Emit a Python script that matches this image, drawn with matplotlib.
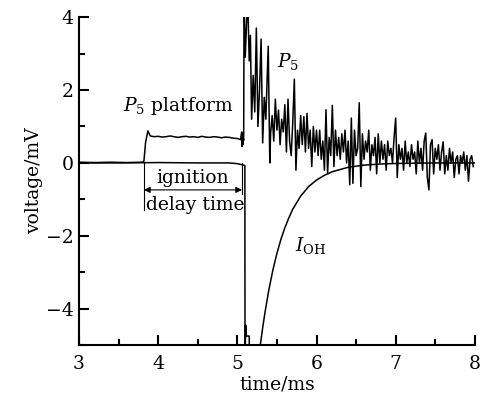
import numpy as np
import matplotlib
matplotlib.use("Agg")
import matplotlib.pyplot as plt
from matplotlib.ticker import MultipleLocator

# P5 trace: baseline and platform before ignition
p5_t_pre = [3.0, 3.2, 3.4, 3.6, 3.8, 3.82, 3.84, 3.87, 3.90, 3.95, 4.00, 4.05,
            4.10, 4.15, 4.20, 4.25, 4.30, 4.35, 4.40, 4.45, 4.50, 4.55, 4.60,
            4.65, 4.70, 4.75, 4.80, 4.85, 4.90, 4.95, 5.00, 5.04, 5.055, 5.06,
            5.065, 5.07, 5.075, 5.08]
p5_v_pre = [0.02, 0.01, 0.02, 0.01, 0.02, 0.05, 0.55, 0.88, 0.74, 0.72, 0.73,
            0.71, 0.72, 0.74, 0.72, 0.70, 0.72, 0.73, 0.71, 0.72, 0.70, 0.73,
            0.71, 0.70, 0.72, 0.71, 0.69, 0.71, 0.70, 0.68, 0.67, 0.64, 0.85,
            0.45, 0.78, 0.50, 0.66, 0.62]

# P5 trace: burst right after ignition
p5_t_burst = [5.085, 5.10, 5.13, 5.15, 5.165, 5.18, 5.20, 5.22, 5.24, 5.26,
              5.28, 5.30, 5.32, 5.34, 5.36, 5.39, 5.41, 5.42]
p5_v_burst = [4.6, 2.9, 4.6, 2.8, 3.5, 1.2, 2.4, 1.4, 3.7, 1.0,
              2.0, 3.4, 0.55, 1.8, 1.2, 3.2, 0.0, 0.8]

# P5 trace: decaying oscillation, one value every 0.02 ms from 5.44 ms
p5_tail = [1.3, 0.6, 1.75, 0.9, 1.45, 0.5, 1.2, 0.85, 1.6, 0.3,
           1.75, 0.6, 0.2, 1.1, 2.3, -0.2, 0.9, 0.4, 1.3, 0.5,
           1.27, 0.3, 1.36, 0.4, 0.9, -0.1, 1.0, 0.3, 0.9, 0.2,
           0.9, 0.1, 0.6, -0.2, 1.46, -0.3, 0.7, 0.2, 1.58, -0.1,
           0.9, 0.2, 0.7, 0.1, 0.8, 0.3, 0.9, 0.0, 0.6, -0.6,
           1.23, -0.56, 0.9, 0.2, 0.4, 1.65, -0.65, 0.8, 0.1, 0.6,
           0.3, 0.9, -0.2, 0.5, 0.2, 0.7, -0.3, 0.8, 0.0, 0.6,
           0.1, 0.5, -0.2, 0.6, 0.2, 0.4, 0.0, 0.7, 1.23, -0.4,
           0.5, 0.1, 0.4, -0.2, 0.6, 0.0, 0.3, -0.1, 0.5, 0.1,
           0.3, -0.3, 0.6, 0.0, 0.4, -0.2, 0.6, 0.82, -0.4, -0.74,
           0.5, 0.64, -0.3, 0.4, 0.1, 0.5, -0.2, 0.3, 0.58, -0.3,
           0.2, -0.2, 0.4, 0.0, 0.3, -0.4, 0.1, 0.2, -0.3, 0.2,
           0.0, 0.3, -0.2, 0.2, -0.5, 0.1, 0.2, -0.1]
p5_t_tail = 5.44 + 0.02 * np.arange(len(p5_tail))

# OH emission trace
oh_t = [3.0, 3.5, 4.0, 4.5, 4.9, 5.0, 5.06, 5.095, 5.097, 5.105, 5.115, 5.15,
        5.152, 5.27, 5.29, 5.32, 5.35, 5.40, 5.45, 5.50, 5.55, 5.60, 5.65,
        5.70, 5.80, 5.90, 6.00, 6.10, 6.20, 6.40, 6.60, 6.80, 7.00, 7.50, 8.00]
oh_v = [0.0, 0.0, 0.01, 0.0, 0.0, -0.02, -0.05, -0.07, -5.6, -4.45, -4.75, -4.75,
        -5.6, -5.35, -5.0, -4.52, -4.09, -3.46, -2.93, -2.48, -2.10, -1.78, -1.51,
        -1.27, -0.91, -0.65, -0.47, -0.34, -0.24, -0.12, -0.06, -0.03, -0.015,
        0.0, 0.0]

delay_start = 3.82
delay_end = 5.06

plt.rcParams['font.family'] = ['DejaVu Serif']
plt.rcParams['mathtext.fontset'] = 'dejavuserif'
plt.rcParams['font.size'] = 13.5

fig = plt.figure(figsize=(4.86, 4.08), dpi=100)
ax = fig.add_axes([0.1626, 0.154, 0.977 - 0.1626, 0.958 - 0.154])

p5_t = list(p5_t_pre) + list(p5_t_burst) + list(p5_t_tail)
p5_v = list(p5_v_pre) + list(p5_v_burst) + list(p5_tail)
ax.plot(p5_t, p5_v, color='black', lw=1.1)
ax.plot(oh_t, oh_v, color='black', lw=1.1)

# ignition delay bracket
ax.plot([delay_start, delay_start], [0, -1.3], color='black', lw=0.8)
ax.plot([delay_end, delay_end], [0, -0.85], color='black', lw=0.8)
ax.annotate('', xy=(delay_end, -0.74), xytext=(delay_start, -0.74),
            arrowprops=dict(arrowstyle='<|-|>', color='black', lw=0.8,
                            mutation_scale=9, shrinkA=0, shrinkB=0))
ax.text(4.43, -0.40, 'ignition', ha='center', va='center')
ax.text(4.47, -1.15, 'delay time', ha='center', va='center')

ax.text(4.26, 1.57, r'$P_5$ platform', ha='center', va='center')
ax.text(5.64, 2.79, r'$P_5$', ha='center', va='center')
ax.text(5.92, -2.26, r'$I_{\rm OH}$', ha='center', va='center')

ax.set_xlim(3, 8)
ax.set_ylim(-5, 4)
ax.xaxis.set_major_locator(MultipleLocator(1))
ax.xaxis.set_minor_locator(MultipleLocator(0.5))
ax.yaxis.set_major_locator(MultipleLocator(2))
ax.yaxis.set_minor_locator(MultipleLocator(1))
ax.tick_params(which='both', direction='in', width=1.5)
ax.tick_params(which='major', length=7.5)
ax.tick_params(which='minor', length=4.5)
ax.tick_params(axis='x', pad=7)
ax.tick_params(axis='y', pad=4)
for side in ['top', 'right']:
    ax.spines[side].set_visible(False)
for side in ['left', 'bottom']:
    ax.spines[side].set_linewidth(1.5)

ax.set_xlabel('time/ms', labelpad=2)
ax.set_ylabel('voltage/mV', labelpad=2)

fig.savefig('out.png', dpi=100)
